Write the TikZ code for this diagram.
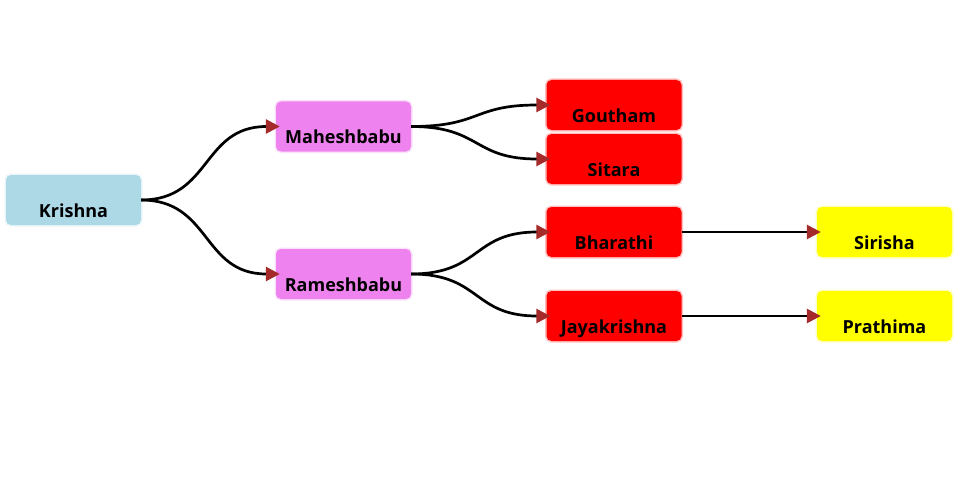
\documentclass[tikz,border=0pt]{standalone}
\usepackage{fontspec}
\setmainfont{Open Sans}
\usetikzlibrary{arrows.meta}
\definecolor{cKr}{HTML}{ADD8E6}
\definecolor{cVi}{HTML}{EE82EE}
\definecolor{cRe}{HTML}{FF0000}
\definecolor{cYe}{HTML}{FFFF00}
\definecolor{cAr}{HTML}{A52A2A}
\tikzset{
  box/.style={rectangle, rounded corners=5pt, fill=#1,
    preaction={draw=#1, draw opacity=0.25, line width=3pt},
    minimum width=135pt, inner xsep=0pt, inner ysep=0pt,
    text height=42pt, text depth=8pt,
    font=\fontsize{18}{18}\selectfont\bfseries},
  link/.style={draw=black, line width=2.7pt,
    -{Triangle[length=14pt,width=14pt,color=cAr]}, shorten >=-4pt},
}
\begin{document}
\begin{tikzpicture}[x=1pt,y=-1pt]
\useasboundingbox (0,0) rectangle (960,500);
\node[box=cKr] (kr) at (73.5,200) {Krishna};
\node[box=cVi] (ma) at (343.5,126.5) {Maheshbabu};
\node[box=cVi] (ra) at (343.5,274) {Rameshbabu};
\node[box=cRe] (go) at (614,105) {Goutham};
\node[box=cRe] (si) at (614,159) {Sitara};
\node[box=cRe] (bh) at (614,232) {Bharathi};
\node[box=cRe] (ja) at (614,316) {Jayakrishna};
\node[box=cYe] (sr) at (884.5,232) {Sirisha};
\node[box=cYe] (pr) at (884.5,316) {Prathima};
\draw[link] (kr.east) .. controls +(70,0) and +(-74,0) .. (ma.west);
\draw[link] (kr.east) .. controls +(70,0) and +(-74,0) .. (ra.west);
\draw[link] (ma.east) .. controls +(70,0) and +(-74,0) .. (go.west);
\draw[link] (ma.east) .. controls +(70,0) and +(-74,0) .. (si.west);
\draw[link] (ra.east) .. controls +(70,0) and +(-74,0) .. (bh.west);
\draw[link] (ra.east) .. controls +(70,0) and +(-74,0) .. (ja.west);
\draw[link] (bh.east) -- (sr.west);
\draw[link] (ja.east) -- (pr.west);
\end{tikzpicture}
\end{document}
